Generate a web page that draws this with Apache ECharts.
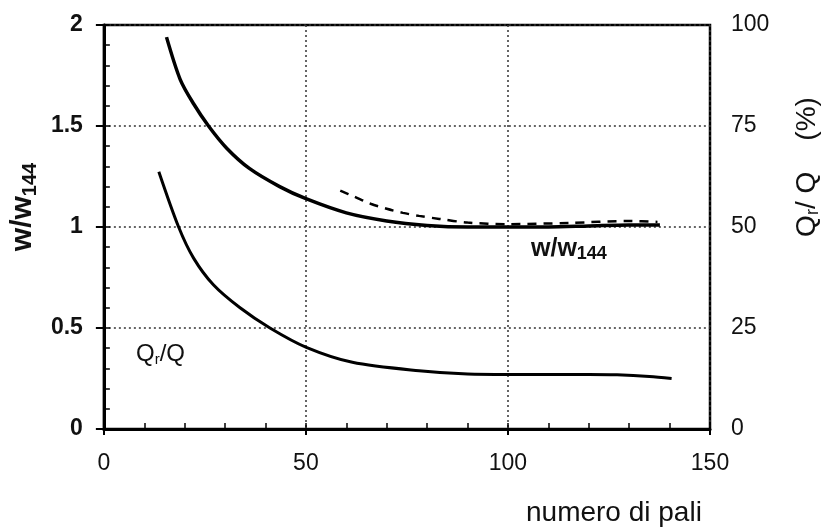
<!DOCTYPE html>
<html>
<head>
<meta charset="utf-8">
<script src="https://cdn.jsdelivr.net/npm/echarts@6/dist/echarts.min.js"></script>
<style>
  html, body { margin: 0; padding: 0; background: #fff; }
  #main { width: 830px; height: 532px; }
</style>
</head>
<body>
<div id="main"></div>
<script>
// curve w/w144 (left axis)
const wX = [15.5, 18.9, 22.2, 25.9, 30.4, 36, 43.5, 50, 60, 70, 80, 90, 100, 110, 120, 130, 137.6];
const wY = [1.94, 1.73, 1.61, 1.50, 1.39, 1.29, 1.20, 1.14, 1.07, 1.03, 1.008, 1.0, 1.0, 1.0, 1.005, 1.01, 1.01];
// dashed curve (left axis)
const dashX = [58.5, 62, 66, 70, 74, 78, 83, 90, 100, 115, 130, 137];
const dashY = [1.18, 1.15, 1.115, 1.09, 1.07, 1.055, 1.04, 1.022, 1.014, 1.02, 1.03, 1.025];
// curve Qr/Q in % (right axis)
const qX = [13.6, 18.5, 22.2, 27.1, 33.7, 41.1, 50.1, 61.5, 78, 90, 100, 110, 120, 127, 135, 140.5];
const qPct = [63.7, 50, 42.3, 35.7, 30, 25, 20.2, 16.5, 14.4, 13.6, 13.5, 13.5, 13.5, 13.4, 13, 12.5];

const font = "'Liberation Sans', Arial, sans-serif";
const ink = '#111';

function pairs(xs, ys) {
  return xs.map((x, i) => [x, ys[i]]);
}

const chart = echarts.init(document.getElementById('main'));

const dotted = { show: true, lineStyle: { color: '#333', width: 1.5, type: [2, 3] } };

chart.setOption({
  backgroundColor: '#fff',
  animation: false,
  grid: { left: 103, right: 117, top: 25, bottom: 100, show: true, borderColor: '#000', borderWidth: 2.5, backgroundColor: 'transparent' },
  xAxis: [
    {
      type: 'value', min: 0, max: 150, interval: 50, position: 'bottom',
      axisLine: { show: true, lineStyle: { color: '#000', width: 3 } },
      axisTick: { show: true, inside: false, length: 6, lineStyle: { color: '#000', width: 2 } },
      axisLabel: { color: ink, fontSize: 23, fontFamily: font, margin: 23 },
      splitLine: dotted,
      name: 'numero di pali',
      nameLocation: 'middle',
      nameGap: 70,
      nameTextStyle: { color: ink, fontSize: 28, fontFamily: font, padding: [0, 0, 0, 414] }
    },
    {
      type: 'value', min: 0, max: 150, interval: 10, position: 'bottom',
      axisLine: { show: false },
      axisTick: { show: true, inside: true, length: 6, lineStyle: { color: '#000', width: 1.5 } },
      axisLabel: { show: false },
      splitLine: { show: false }
    }
  ],
  yAxis: [
    {
      type: 'value', min: 0, max: 2, interval: 0.5, position: 'left',
      axisLine: { show: true, lineStyle: { color: '#000', width: 3 } },
      axisTick: { show: true, inside: false, length: 8, lineStyle: { color: '#000', width: 2 } },
      axisLabel: { color: ink, fontSize: 23, fontWeight: 'bold', fontFamily: font, margin: 21 },
      splitLine: dotted,
      name: '{a|w/w}{s|144}',
      nameLocation: 'middle',
      nameGap: 60,
      nameTextStyle: {
        padding: [0, 0, 0, 40],
        rich: {
          a: { fontSize: 30, fontWeight: 'bold', fontFamily: font, color: ink, lineHeight: 34 },
          s: { fontSize: 20, fontWeight: 'bold', fontFamily: font, color: ink, lineHeight: 20, verticalAlign: 'bottom' }
        }
      }
    },
    {
      type: 'value', min: 0, max: 100, interval: 25, position: 'right',
      axisLine: { show: true, lineStyle: { color: '#000', width: 2.5 } },
      axisTick: { show: false },
      axisLabel: { color: ink, fontSize: 23, fontFamily: font, margin: 21 },
      splitLine: { show: false },
      name: '{a|Q}{s|r}{a|/ Q    (%)}',
      nameLocation: 'middle',
      nameGap: 82,
      nameTextStyle: {
        padding: [0, 0, 0, 120],
        rich: {
          a: { fontSize: 28, fontFamily: font, color: ink, lineHeight: 30 },
          s: { fontSize: 18, fontFamily: font, color: ink, lineHeight: 18, verticalAlign: 'bottom' }
        }
      }
    },
    {
      type: 'value', min: 0, max: 2, interval: 0.1, position: 'left',
      axisLine: { show: false },
      axisTick: { show: true, inside: true, length: 6, lineStyle: { color: '#000', width: 1.5 } },
      axisLabel: { show: false },
      splitLine: { show: false }
    }
  ],
  series: [
    {
      name: 'w/w144', type: 'line', xAxisIndex: 0, yAxisIndex: 0,
      data: pairs(wX, wY), smooth: 0.3, symbol: 'none',
      lineStyle: { color: '#000', width: 3.5 }, z: 5
    },
    {
      name: 'dashed', type: 'line', xAxisIndex: 0, yAxisIndex: 0,
      data: pairs(dashX, dashY), smooth: 0.3, symbol: 'none',
      lineStyle: { color: '#000', width: 2.5, type: [9, 7] }, z: 4
    },
    {
      name: 'Qr/Q', type: 'line', xAxisIndex: 0, yAxisIndex: 1,
      data: pairs(qX, qPct), smooth: 0.3, symbol: 'none',
      lineStyle: { color: '#000', width: 3 }, z: 5
    }
  ],
  graphic: [
    {
      type: 'text', left: 531, top: 237,
      style: {
        text: '{a|w/w}{s|144}',
        rich: {
          a: { fontSize: 25, fontWeight: 'bold', fontFamily: font, fill: ink, lineHeight: 27 },
          s: { fontSize: 18, fontWeight: 'bold', fontFamily: font, fill: ink, lineHeight: 18, verticalAlign: 'bottom' }
        }
      }
    },
    {
      type: 'text', left: 136, top: 342,
      style: {
        text: '{a|Q}{s|r}{a|/Q}',
        rich: {
          a: { fontSize: 24, fontFamily: font, fill: ink, lineHeight: 26 },
          s: { fontSize: 15, fontFamily: font, fill: ink, lineHeight: 15, verticalAlign: 'bottom' }
        }
      }
    }
  ]
});
</script>
</body>
</html>
